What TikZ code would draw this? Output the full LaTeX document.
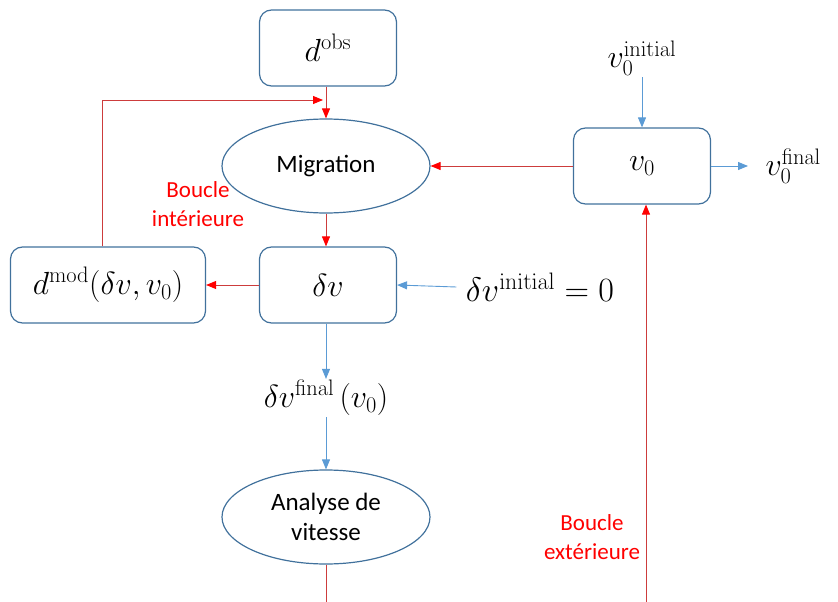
\RequirePackage{fix-cm}
\documentclass[tikz,border=0pt]{standalone}
\usepackage[no-math]{fontspec}
\setmainfont{Carlito}
\usetikzlibrary{arrows.meta,shapes.geometric}
\definecolor{boxblue}{RGB}{65,113,156}
\definecolor{arrowblue}{RGB}{91,155,213}
\definecolor{linered}{RGB}{205,60,60}
\begin{document}
\begin{tikzpicture}[x=1pt, y=-1pt,
    mbox/.style={draw=boxblue, line width=1.2pt, rounded corners=12pt, minimum width=137pt, minimum height=76pt, font=\fontsize{32}{36}\selectfont},
    mellipse/.style={ellipse, draw=boxblue, line width=1.2pt, minimum width=208pt, minimum height=94pt, align=center, font=\fontsize{25}{30}\selectfont},
    mlabel/.style={font=\fontsize{32}{36}\selectfont},
    loopnote/.style={text=red, align=center, font=\fontsize{23}{29}\selectfont},
    bluearrow/.style={draw=arrowblue, line width=0.9pt, -{Triangle[length=10pt, width=8pt]}},
    redarrow/.style={draw=linered, line width=0.9pt, -{Triangle[length=10pt, width=8pt, color=red]}}]
    \useasboundingbox (0, 0) rectangle (838, 602);
    % boxes and ellipses
    \node[mbox] (dobs) at (328, 48) {$d^{\mathrm{obs}}$};
    \node[mellipse] (migr) at (326, 166) {Migration};
    \node[mbox] (vzero) at (642, 166) {$v_0$};
    \node[mbox] (dv) at (328, 285) {$\delta v$};
    \node[mbox, minimum width=195pt] (dmod) at (108, 285) {$d^{\mathrm{mod}}(\delta v, v_0)$};
    \node[mellipse] (anal) at (326, 517) {Analyse de\\vitesse};
    % free labels
    \node[mlabel] (vinit) at (642, 58) {$v_0^{\mathrm{initial}}$};
    \node[mlabel, anchor=west] (vfin) at (762, 166) {$v_0^{\mathrm{final}}$};
    \node[mlabel, font=\fontsize{34}{38}\selectfont] (dvinit) at (540, 287) {$\delta v^{\mathrm{initial}} = 0$};
    \node[mlabel] (dvfin) at (326, 398) {$\delta v^{\mathrm{final}}\,(v_0)$};
    \node[loopnote] (inner) at (198, 204) {Boucle\\intérieure};
    \node[loopnote] (outer) at (592, 537) {Boucle\\extérieure};
    \coordinate (loopend) at (323, 100);
    \coordinate (botleft) at (326, 602);
    \coordinate (botright) at (646, 602);
    % connectors
    \draw[redarrow] (dobs.south -| migr.north) -- (migr.north);
    \draw[redarrow] ([xshift=-6pt]dmod.north) |- (loopend);
    \draw[redarrow] (vzero.west) -- (migr.east);
    \draw[redarrow] (migr.south) -- (migr.south |- dv.north);
    \draw[redarrow] (dv.west) -- (dmod.east);
    \draw[bluearrow] ([yshift=2pt]vinit.south -| vzero.north) -- (vzero.north);
    \draw[bluearrow] (vzero.east) -- ([xshift=-14pt]vfin.west);
    \draw[bluearrow] ([xshift=-6pt]dvinit.west) -- (dv.east);
    \draw[bluearrow] (dv.south -| dvfin.north) -- ([yshift=-2pt]dvfin.north);
    \draw[bluearrow] ([yshift=2pt]dvfin.south) -- (anal.north);
    \draw[draw=linered, line width=0.9pt] (anal.south) -- (botleft);
    \draw[redarrow] (botright) -- (botright |- vzero.south);
\end{tikzpicture}
\end{document}
